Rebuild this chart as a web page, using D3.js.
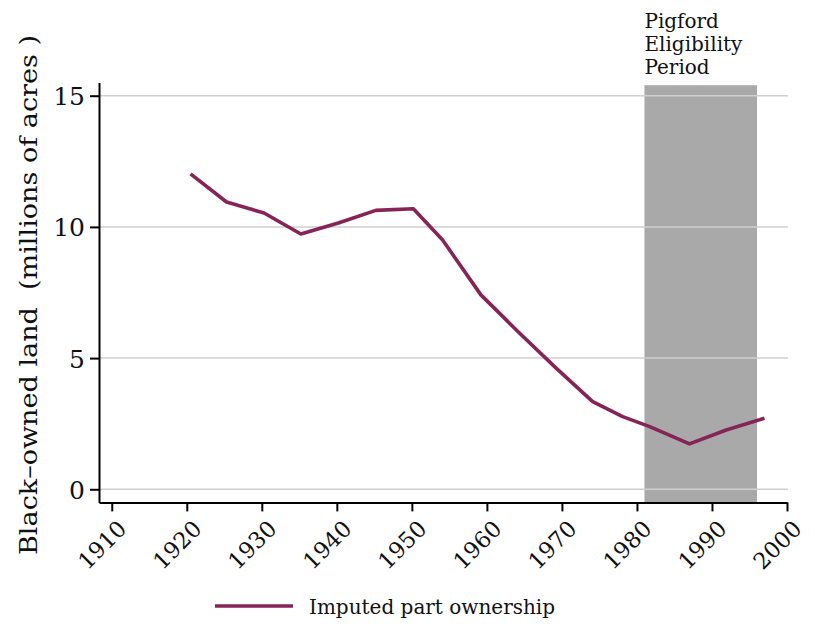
<!DOCTYPE html>
<html>
<head>
<meta charset="utf-8">
<script src="https://cdn.jsdelivr.net/npm/d3@7/dist/d3.min.js"></script>
<style>
  body { margin: 0; background: #fff; }
  text { font-family: "DejaVu Serif", "Liberation Serif", serif; fill: #111; }
</style>
</head>
<body>
<div id="chart"></div>
<script>
// Chart data
var years = [1920.5, 1925.3, 1930.3, 1935.2, 1940.2, 1945.2, 1950.2, 1954.1, 1959.2,
             1964.4, 1969.3, 1974.1, 1978.1, 1981.7, 1987.0, 1991.9, 1997.0];
var acres = [12.02, 10.95, 10.53, 9.73, 10.15, 10.63, 10.69, 9.5, 7.41,
             5.94, 4.6, 3.34, 2.77, 2.39, 1.73, 2.26, 2.71];
var xTicks = [1910, 1920, 1930, 1940, 1950, 1960, 1970, 1980, 1990, 2000];
var yTicks = [0, 5, 10, 15];
var pigfordPeriod = [1981, 1996];
var pigfordLabel = ["Pigford", "Eligibility", "Period"];
var seriesName = "Imputed part ownership";

var svgWidth = 815;
var svgHeight = 624;

var svg = d3.select("#chart")
  .append("svg")
  .attr("width", svgWidth)
  .attr("height", svgHeight);

// Scales
var xScale = d3.scaleLinear()
  .domain([1908.3, 2000])
  .range([99, 787]);

var yScale = d3.scaleLinear()
  .domain([-0.5, 15.5])
  .range([502.4, 82.6]);

// shaded Pigford period
svg.append("rect")
  .attr("x", xScale(pigfordPeriod[0]))
  .attr("y", yScale(15.4))
  .attr("width", xScale(pigfordPeriod[1]) - xScale(pigfordPeriod[0]))
  .attr("height", yScale(-0.5) - yScale(15.4))
  .attr("fill", "#a9a9a9");

// gridlines
svg.append("g")
  .selectAll("line")
  .data(yTicks)
  .enter()
  .append("line")
  .attr("x1", xScale.range()[0])
  .attr("x2", 788)
  .attr("y1", d => yScale(d))
  .attr("y2", d => yScale(d))
  .attr("stroke", "#cfcfcf")
  .attr("stroke-width", 1.5);

// axes
var leftAxis = d3.axisLeft(yScale)
  .tickValues(yTicks)
  .tickSizeInner(9)
  .tickSizeOuter(0)
  .tickPadding(5);

var bottomAxis = d3.axisBottom(xScale)
  .tickValues(xTicks)
  .tickFormat(d3.format("d"))
  .tickSizeInner(9)
  .tickSizeOuter(0);

var yAxisG = svg.append("g")
  .attr("transform", "translate(99,0)")
  .call(leftAxis);

yAxisG.selectAll("text")
  .style("font-size", "25px")
  .attr("dy", "0.36em");

var xAxisG = svg.append("g")
  .attr("transform", "translate(0,502.4)")
  .call(bottomAxis);

xAxisG.selectAll("text")
  .style("font-size", "22.5px")
  .attr("text-anchor", "end")
  .attr("x", 0)
  .attr("y", 0)
  .attr("dy", "0.36em")
  .attr("transform", "translate(10,22) rotate(-45)");

svg.selectAll(".domain, .tick line")
  .attr("stroke", "#000")
  .attr("stroke-width", 2);

// the line
var line = d3.line()
  .x(d => xScale(d[0]))
  .y(d => yScale(d[1]));

svg.append("path")
  .datum(d3.zip(years, acres))
  .attr("d", line)
  .attr("fill", "none")
  .attr("stroke", "#862457")
  .attr("stroke-width", 3.6)
  .attr("stroke-linejoin", "round");

// Pigford label
svg.append("text")
  .attr("x", xScale(pigfordPeriod[0]))
  .attr("y", 28)
  .style("font-size", "20px")
  .selectAll("tspan")
  .data(pigfordLabel)
  .enter()
  .append("tspan")
  .attr("x", xScale(pigfordPeriod[0]))
  .attr("dy", (d, i) => i == 0 ? 0 : 23)
  .text(d => d);

// y axis title
svg.append("text")
  .attr("transform", "translate(37, 295) rotate(-90)")
  .attr("text-anchor", "middle")
  .attr("xml:space", "preserve")
  .attr("textLength", 520)
  .attr("lengthAdjust", "spacingAndGlyphs")
  .style("font-size", "25px")
  .text("Black\u2013owned land  (millions of acres )");

// legend
svg.append("line")
  .attr("x1", 215)
  .attr("x2", 293)
  .attr("y1", 606)
  .attr("y2", 606)
  .attr("stroke", "#862457")
  .attr("stroke-width", 3.6);

svg.append("text")
  .attr("x", 309)
  .attr("y", 614)
  .style("font-size", "20px")
  .text(seriesName);
</script>
</body>
</html>
